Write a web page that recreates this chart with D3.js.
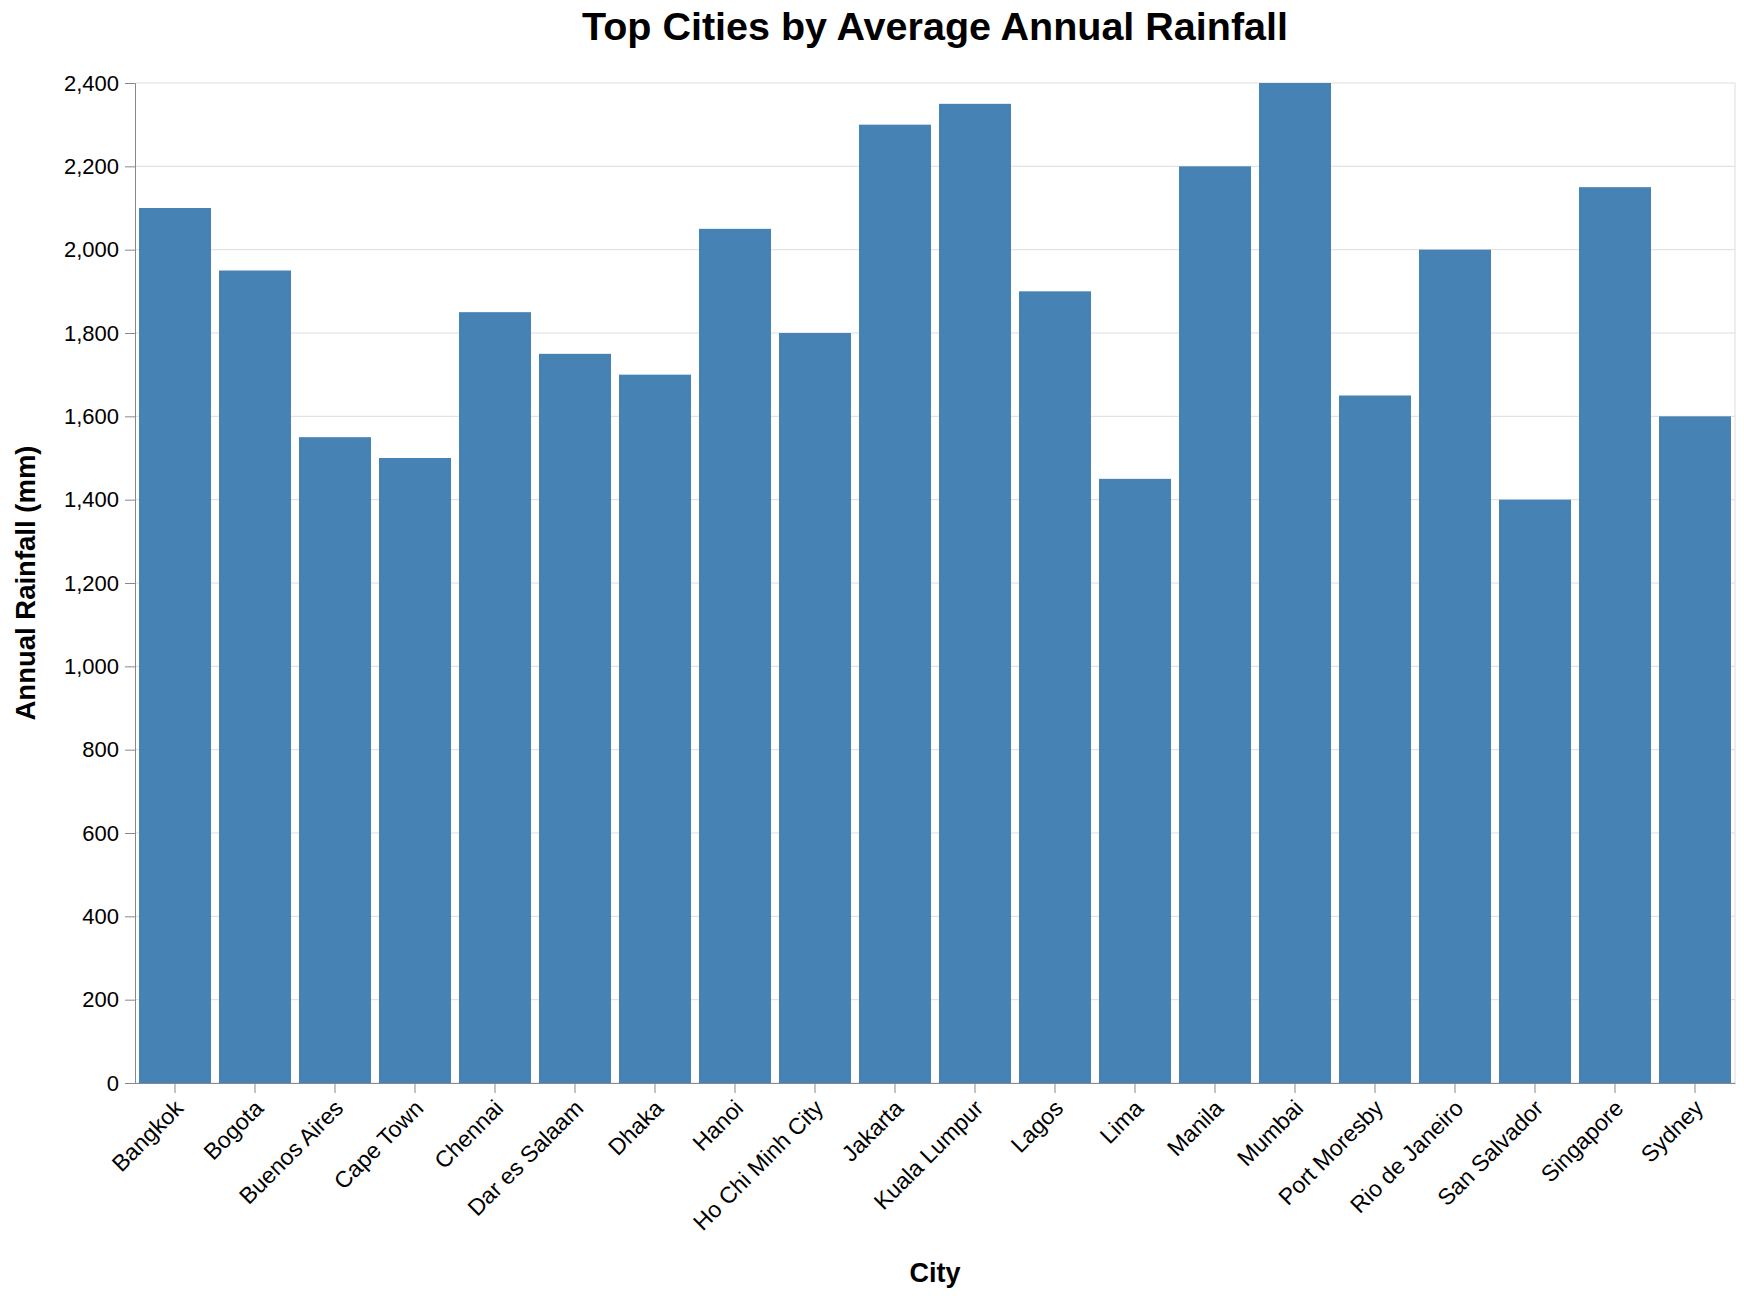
<!DOCTYPE html>
<html>
<head>
<meta charset="utf-8">
<script src="https://cdn.jsdelivr.net/npm/d3@7"></script>
<style>
  body { margin: 0; background: #fff; }
  svg text { font-family: "Liberation Sans", Arial, Helvetica, sans-serif; }
</style>
</head>
<body>
<div id="chart"></div>
<script>
// --- Data ---
const cities = ["Bangkok", "Bogota", "Buenos Aires", "Cape Town", "Chennai", "Dar es Salaam",
  "Dhaka", "Hanoi", "Ho Chi Minh City", "Jakarta", "Kuala Lumpur", "Lagos", "Lima", "Manila",
  "Mumbai", "Port Moresby", "Rio de Janeiro", "San Salvador", "Singapore", "Sydney"];
const rainfall = [2100, 1950, 1550, 1500, 1850, 1750, 1700, 2050, 1800, 2300,
  2350, 1900, 1450, 2200, 2400, 1650, 2000, 1400, 2150, 1600];
const yTicks = [0, 200, 400, 600, 800, 1000, 1200, 1400, 1600, 1800, 2000, 2200, 2400];

const width = 1744, height = 1298;
const margin = {top: 83, left: 135};
const plotW = 1600, plotH = 1000;

const svg = d3.select("#chart").append("svg")
    .attr("width", width)
    .attr("height", height);

// title
svg.append("text")
    .attr("x", margin.left + plotW / 2)
    .attr("y", 40)
    .attr("text-anchor", "middle")
    .attr("font-size", "39.5px")
    .attr("font-weight", "bold")
    .text("Top Cities by Average Annual Rainfall");

const g = svg.append("g")
    .attr("transform", `translate(${margin.left},${margin.top})`);

// scales
const x = d3.scaleBand()
    .domain(cities)
    .range([0, plotW])
    .paddingInner(0.1)
    .paddingOuter(0.05);

const y = d3.scaleLinear()
    .domain([0, 2400])
    .range([plotH, 0]);

// gridlines
g.append("g")
    .selectAll("line")
    .data(yTicks)
    .enter().append("line")
    .attr("x1", 0)
    .attr("x2", plotW)
    .attr("y1", d => y(d))
    .attr("y2", d => y(d))
    .attr("stroke", "#ddd")
    .attr("stroke-width", 1);

// right frame line
g.append("line")
    .attr("x1", plotW).attr("x2", plotW)
    .attr("y1", 0).attr("y2", plotH)
    .attr("stroke", "#ddd");

// bars
g.selectAll(".bar")
    .data(cities)
    .enter().append("rect")
    .attr("class", "bar")
    .attr("x", d => x(d))
    .attr("width", x.bandwidth())
    .attr("y", (d, i) => y(rainfall[i]))
    .attr("height", (d, i) => plotH - y(rainfall[i]))
    .attr("fill", "#4682b4");

// y axis
const yAxis = g.append("g")
    .call(d3.axisLeft(y).tickValues(yTicks).tickSize(10).tickPadding(6).tickFormat(d3.format(",")));
yAxis.select(".domain").attr("stroke", "#888").attr("stroke-width", 1);
yAxis.selectAll(".tick line").attr("stroke", "#888");
yAxis.selectAll(".tick text")
    .attr("font-size", "22px")
    .attr("fill", "#000")
    .style("font-family", "'Liberation Sans', Arial, sans-serif");

// x axis - rotated city labels
const xAxis = g.append("g")
    .attr("transform", `translate(0,${plotH})`)
    .call(d3.axisBottom(x).tickSize(10).tickSizeOuter(0));
xAxis.select(".domain").attr("stroke", "#888");
xAxis.selectAll(".tick line").attr("stroke", "#888");
xAxis.selectAll(".tick text")
    .attr("font-size", "23px")
    .attr("fill", "#000")
    .style("font-family", "'Liberation Sans', Arial, sans-serif")
    .attr("text-anchor", "end")
    .attr("y", 0)
    .attr("dy", "0.78em")
    .attr("transform", "translate(-3,14) rotate(-45)");

// axis titles
svg.append("text")
    .attr("transform", `translate(35,${margin.top + plotH / 2}) rotate(-90)`)
    .attr("text-anchor", "middle")
    .attr("font-size", "27.5px")
    .attr("font-weight", "bold")
    .text("Annual Rainfall (mm)");

svg.append("text")
    .attr("x", margin.left + plotW / 2)
    .attr("y", 1282)
    .attr("text-anchor", "middle")
    .attr("font-size", "27px")
    .attr("font-weight", "bold")
    .text("City");
</script>
</body>
</html>
